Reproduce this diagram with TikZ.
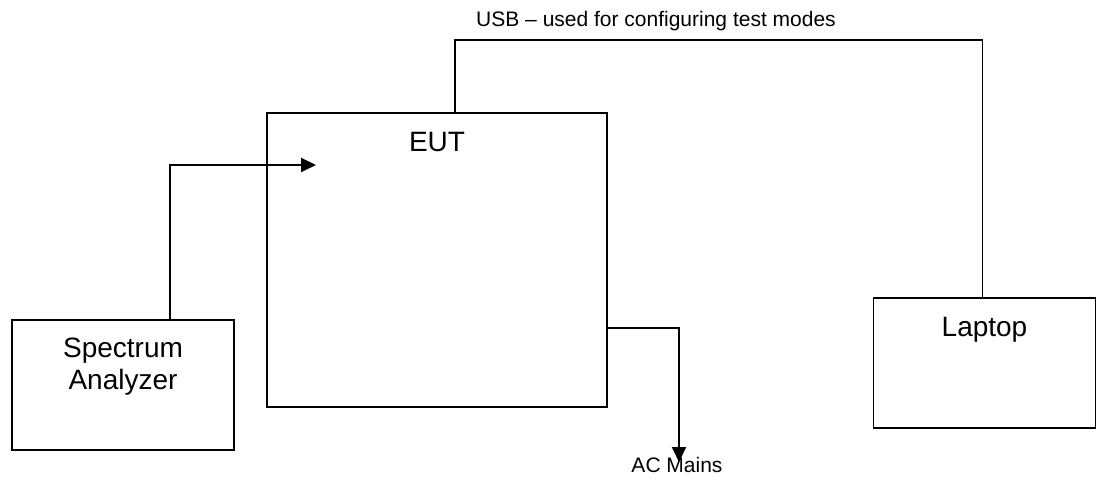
\documentclass[tikz,border=0pt]{standalone}
\usepackage{fontspec}
\setmainfont{Liberation Sans}
\usetikzlibrary{arrows.meta,positioning}

\begin{document}
\begin{tikzpicture}[x=1pt,y=-1pt,line width=1.9pt,
		box/.style={draw,rectangle,inner sep=0pt},
		big/.style={font=\fontsize{28}{32}\selectfont,align=center,inner sep=0pt},
		small/.style={font=\fontsize{21}{24}\selectfont,inner sep=0pt},
		tip/.style={-{Triangle[length=15pt,width=14pt]}}]
		\useasboundingbox (0,0) rectangle (1097,481);
		% the three units
		\node[box,minimum width=222pt,minimum height=130pt] (sa) at (123,385) {};
		\node[box,minimum width=340pt,minimum height=294pt] (eut) at (437,260) {};
		\node[box,minimum width=222pt,minimum height=130pt] (laptop) at (984.5,363) {};
		\node[big,below=18pt of sa.north] (satext) {Spectrum\\Analyzer};
		\node[big,below=19pt of eut.north] (euttext) {EUT};
		\node[big,below=19pt of laptop.north] (laptoptext) {Laptop};
		% cabling
		\coordinate (rfin) at (316,165);
		\coordinate (mains) at (679,462);
		\draw[tip] ([xshift=47pt]sa.north) |- (rfin);
		\draw ([xshift=18pt]eut.north) -- ++(0,-72) -| ([xshift=-2pt]laptop.north);
		\draw[tip] ([yshift=-68pt]eut.east) -| (mains);
		\node[small,anchor=base] (usbtext) at (656,27) {USB – used for configuring test modes};
		\node[small,anchor=base] (mainstext) at (677,472) {AC Mains};
	\end{tikzpicture}
\end{document}
